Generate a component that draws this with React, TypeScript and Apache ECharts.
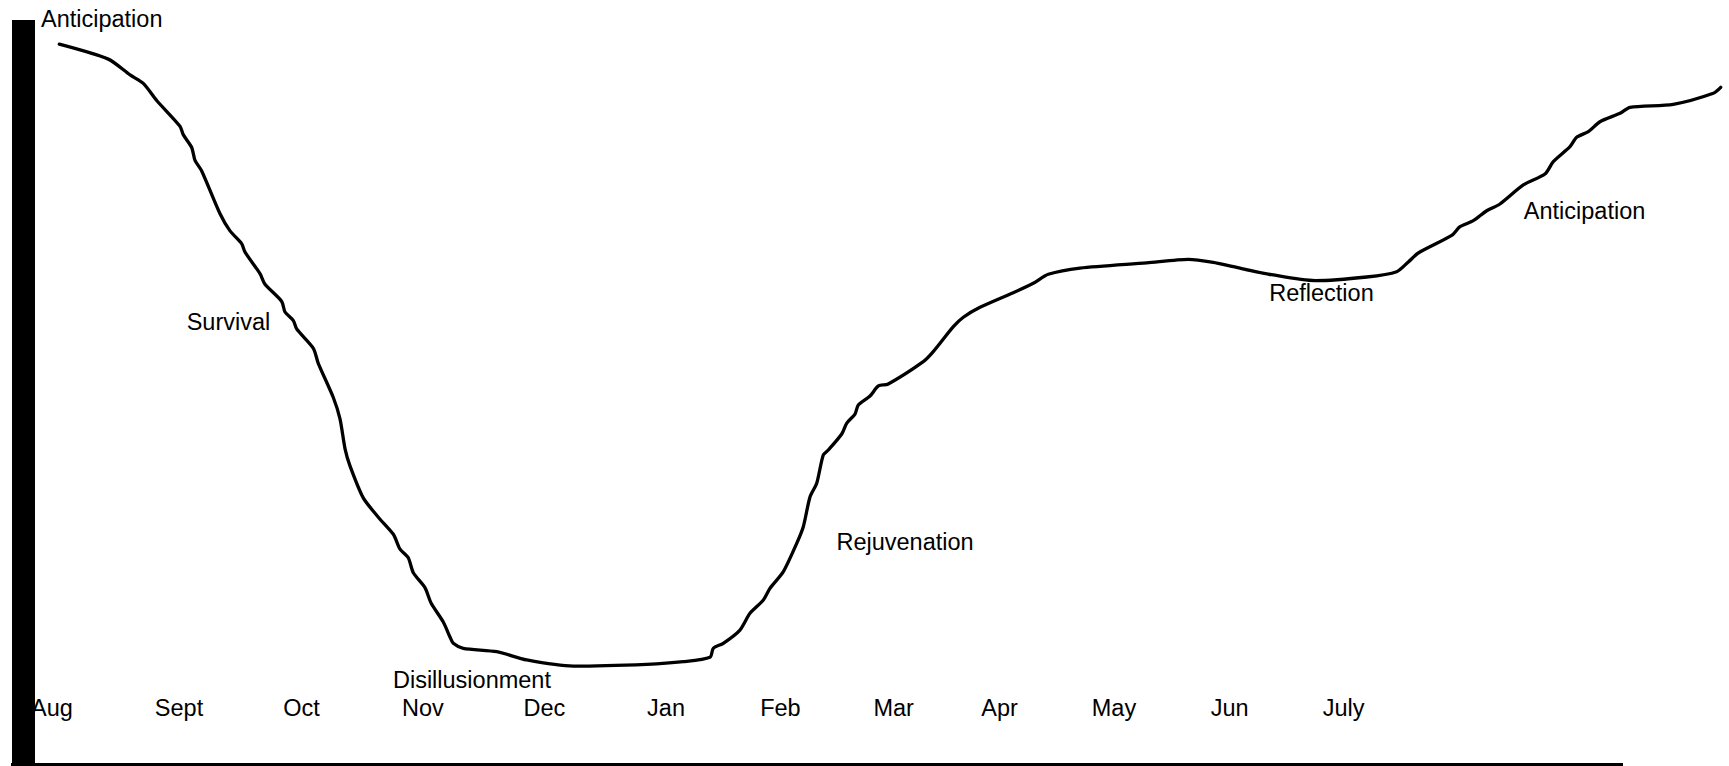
import React, { useEffect, useRef } from "react";
import * as echarts from "echarts";

// x = months since August (Aug = 0), y = mood (0..100)
const curveX = [
  0.062, 0.479, 0.664, 0.777, 0.891, 1.089, 1.117, 1.189, 1.217, 1.274,
  1.43, 1.515, 1.614, 1.643, 1.77, 1.813, 1.955, 1.983, 2.054, 2.083,
  2.224, 2.266, 2.394, 2.451, 2.494, 2.536, 2.649, 2.777, 2.905, 2.962,
  3.032, 3.075, 3.174, 3.226, 3.33, 3.387, 3.415, 3.5, 3.785, 4.04,
  4.437, 5.061, 5.373, 5.6, 5.628, 5.713, 5.855, 5.94, 6.054, 6.111,
  6.224, 6.338, 6.394, 6.451, 6.508, 6.564, 6.607, 6.721, 6.763, 6.834,
  6.862, 6.962, 7.033, 7.117, 7.415, 7.5, 7.671, 7.756, 7.898, 8.181,
  8.351, 8.479, 8.749, 9.317, 9.671, 9.883, 10.054, 10.394, 10.749, 11.189,
  11.444, 11.543, 11.628, 11.912, 11.983, 12.096, 12.21, 12.323, 12.522, 12.706,
  12.777, 12.919, 12.976, 13.075, 13.174, 13.345, 13.43, 13.798, 14.139, 14.202,
];
const curveY = [
  94.24, 92.28, 90.22, 89.11, 86.88, 83.52, 82.42, 80.74, 79.07, 77.68,
  72.09, 69.86, 68.19, 67.08, 64.28, 62.89, 60.65, 59.27, 58.15, 57.04,
  54.52, 52.57, 48.11, 45.31, 41.41, 39.18, 35.0, 32.48, 30.25, 28.3,
  27.18, 25.23, 23.28, 21.28, 18.8, 16.84, 16.02, 15.37, 14.92, 13.84,
  13.05, 13.28, 13.62, 14.19, 15.37, 16.02, 17.75, 19.93, 21.67, 23.2,
  25.37, 29.07, 31.24, 35.12, 36.91, 40.6, 41.25, 43.34, 44.74, 45.95,
  47.13, 48.3, 49.61, 49.87, 52.78, 54.09, 57.35, 58.58, 59.88, 61.79,
  63.02, 64.19, 65.01, 65.69, 66.15, 65.76, 65.18, 64.1, 63.36, 63.84,
  64.53, 65.8, 66.97, 69.26, 70.4, 71.19, 72.49, 73.37, 75.85, 77.28,
  78.89, 80.85, 82.08, 82.81, 84.11, 85.21, 85.99, 86.38, 87.82, 88.6,
];

const monthNames = ["Aug", "Sept", "Oct", "Nov", "Dec", "Jan", "Feb", "Mar", "Apr", "May", "Jun", "July"];
const monthX = [0.0, 1.081, 2.123, 3.157, 4.191, 5.226, 6.199, 7.163, 8.064, 9.038, 10.022, 10.993];
const monthY = 7.57;

const phaseNames = ["Anticipation", "Survival", "Disillusionment", "Rejuvenation", "Reflection", "Anticipation"];
const phaseX = [0.423, 1.502, 3.574, 7.26, 10.804, 13.043];
const phaseY = [97.58, 57.96, 11.17, 29.24, 61.75, 72.49];

const W = 1729;
const H = 766;

export default function App() {
  const ref = useRef<HTMLDivElement>(null);
  useEffect(() => {
    if (!ref.current) return;
    const chart = echarts.init(ref.current, null, { renderer: "svg", width: W, height: H });
    const font = "'Liberation Sans', Arial, Helvetica, sans-serif";
    const textLabel = {
      show: true,
      position: "inside",
      formatter: "{b}",
      color: "#000000",
      opacity: 1,
      fontSize: 23.5,
      fontFamily: font,
    };
    chart.setOption({
      animation: false,
      backgroundColor: "#fff",
      grid: { left: 0, right: 0, top: 0, bottom: 0 },
      xAxis: { type: "value", min: -0.4426, max: 14.2723, show: false },
      yAxis: { type: "value", min: 0, max: 100, show: false },
      series: [
        {
          type: "line",
          data: curveX.map((x, i) => [x, curveY[i]]),
          symbol: "none",
          smooth: 0.25,
          lineStyle: { color: "#000", width: 3.3, cap: "round", join: "round" },
          z: 3,
        },
        {
          type: "scatter",
          data: monthNames.map((n, i) => ({ name: n, value: [monthX[i], monthY] })),
          symbolSize: 1,
          itemStyle: { color: "transparent" },
          label: textLabel,
          z: 2,
        },
        {
          type: "scatter",
          data: phaseNames.map((n, i) => ({ name: n, value: [phaseX[i], phaseY[i]] })),
          symbolSize: 1,
          itemStyle: { color: "transparent" },
          label: textLabel,
          z: 2,
        },
      ],
      graphic: [
        { type: "rect", z: 100, shape: { x: 12, y: 20, width: 23, height: 746 }, style: { fill: "#000" } },
        { type: "rect", z: 100, shape: { x: 11, y: 763, width: 1612, height: 3 }, style: { fill: "#000" } },
      ],
    });
    return () => chart.dispose();
  }, []);
  return (
    <div
      ref={ref}
      style={{ position: "absolute", left: 0, top: 0, width: W, height: H, background: "#fff" }}
    />
  );
}
